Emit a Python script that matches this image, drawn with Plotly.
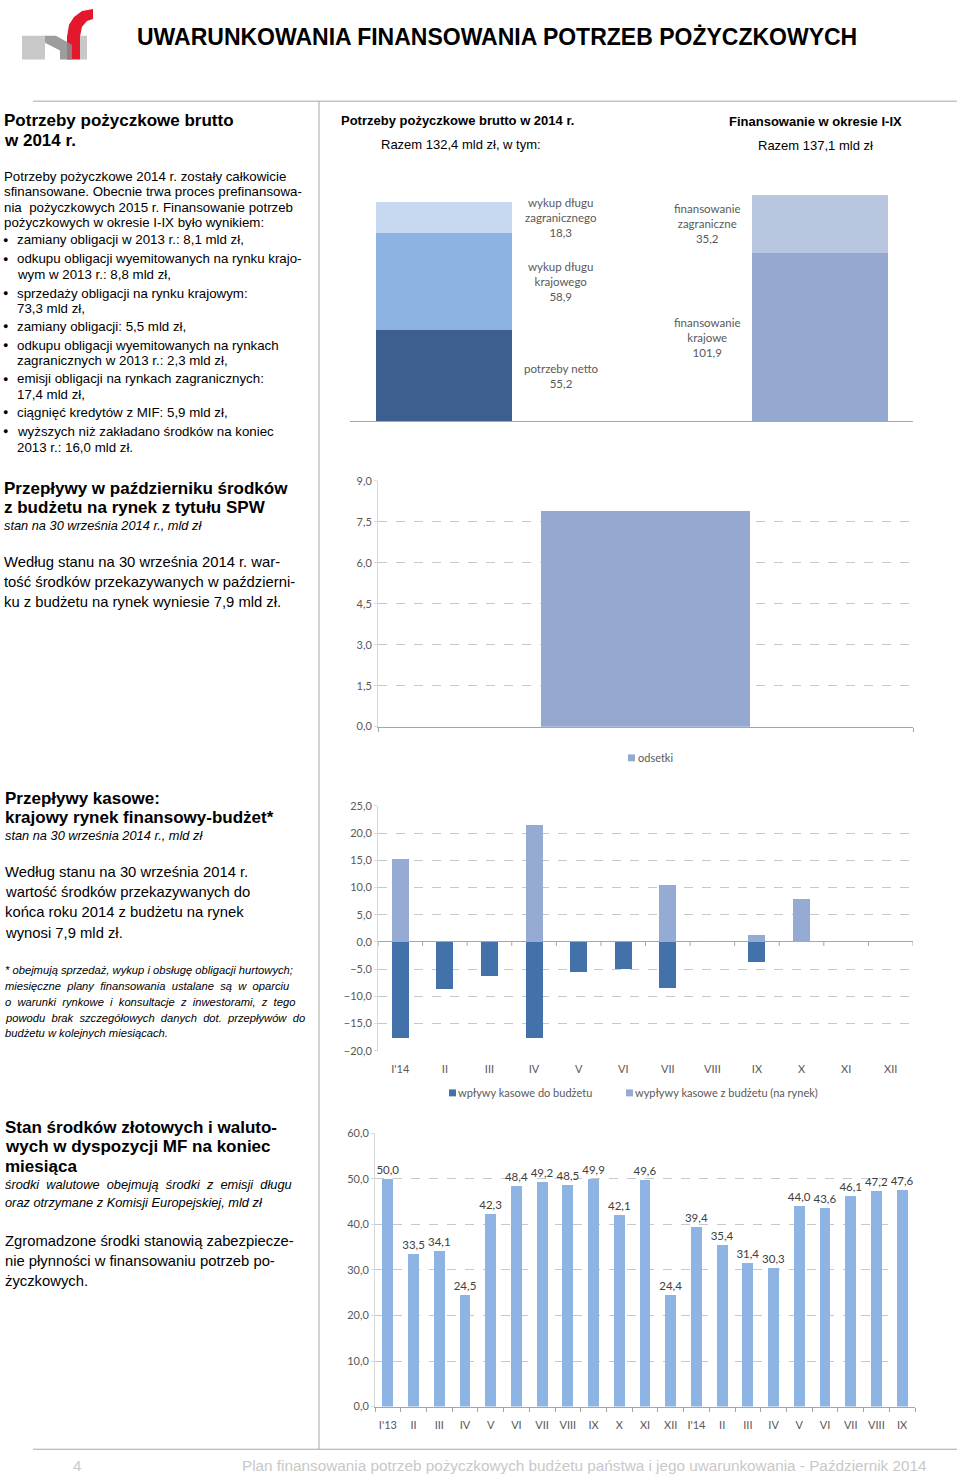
import plotly.graph_objects as go

W, H = 960, 1483

def px(x):
    return x / W

def py(y):
    return 1 - y / H

# ---------------- data ----------------
needs_labels = ["potrzeby netto", "wykup długu<br>krajowego", "wykup długu<br>zagranicznego"]
needs_values = [55.2, 58.9, 18.3]
funding_labels = ["finansowanie<br>krajowe", "finansowanie<br>zagraniczne"]
funding_values = [101.9, 35.2]

interest_label = "odsetki"
interest_values = [7.9]

cash_months = ["I'14", "II", "III", "IV", "V", "VI", "VII", "VIII", "IX", "X", "XI", "XII"]
cash_inflows = [-17.6, -8.6, -6.3, -17.6, -5.6, -5.0, -8.4, None, -3.6, None, None, None]
cash_outflows = [15.2, None, None, 21.5, None, None, 10.4, 0.1, 1.3, 7.9, None, None]
cash_names = ["wpływy kasowe do budżetu", "wypływy kasowe z budżetu (na rynek)"]

funds_months = ["I'13", "II", "III", "IV", "V", "VI", "VII", "VIII", "IX", "X", "XI", "XII",
                "I'14", "II", "III", "IV", "V", "VI", "VII", "VIII", "IX"]
funds_values = [50.0, 33.5, 34.1, 24.5, 42.3, 48.4, 49.2, 48.5, 49.9, 42.1, 49.6, 24.4,
                39.4, 35.4, 31.4, 30.3, 44.0, 43.6, 46.1, 47.2, 47.6]

# ---------------- styles ----------------
BODY = "Liberation Sans, Arial, sans-serif"
CHART = "Lato, Open Sans, sans-serif"
GRAY_TXT = "#595959"
AXIS = "#A6A6A6"
GRID = "#C8C8C8"
CLEAR = "rgba(0,0,0,0)"

needs_colors = ["#3C5F8F", "#8DB3E2", "#C6D9F1"]
funding_colors = ["#95A8D0", "#B9C6E0"]
inflow_color = "#4372AA"
outflow_color = "#95ABD3"
funds_color = "#8DB4E2"
interest_color = "#95A9D0"

def fmt(v):
    return f"{v:.1f}".replace(".", ",")

fig = go.Figure()

# ---- chart 1: stacked needs / funding ----
base = 0
for lab, val, col in zip(needs_labels, needs_values, needs_colors):
    fig.add_trace(go.Bar(x=[0], y=[val], base=[base], width=0.362, marker_color=col,
                         marker_line_width=0, xaxis="x", yaxis="y", showlegend=False,
                         hoverinfo="skip"))
    base += val
base = 0
for lab, val, col in zip(funding_labels, funding_values, funding_colors):
    fig.add_trace(go.Bar(x=[1], y=[val], base=[base], width=0.362, marker_color=col,
                         marker_line_width=0, xaxis="x", yaxis="y", showlegend=False,
                         hoverinfo="skip"))
    base += val

annotations = []

def add_chart1_labels(labels, values, xpos):
    b = 0
    for lab, val in zip(labels, values):
        annotations.append(dict(x=xpos, y=b + val / 2, xref="x", yref="y",
                                text=f"{lab}<br>{fmt(val)}", showarrow=False,
                                font=dict(family=CHART, size=11.5, color=GRAY_TXT),
                                align="center", xanchor="center", yanchor="middle"))
        b += val

add_chart1_labels(needs_labels, needs_values, 0.31)
add_chart1_labels(funding_labels, funding_values, 0.70)

# ---- chart 2: interest ----
fig.add_trace(go.Bar(x=[0], y=interest_values, width=0.39, marker_color=interest_color,
                     marker_line_width=0, xaxis="x2", yaxis="y2", showlegend=False,
                     hoverinfo="skip"))

# ---- chart 3: cash flows ----
fig.add_trace(go.Bar(x=list(range(len(cash_months))), y=cash_inflows, width=0.38,
                     marker_color=inflow_color, marker_line_width=0, name=cash_names[0],
                     xaxis="x3", yaxis="y3", showlegend=False, hoverinfo="skip"))
fig.add_trace(go.Bar(x=list(range(len(cash_months))), y=cash_outflows, width=0.38,
                     marker_color=outflow_color, marker_line_width=0, name=cash_names[1],
                     xaxis="x3", yaxis="y3", showlegend=False, hoverinfo="skip"))

# ---- chart 4: funds ----
fig.add_trace(go.Bar(x=list(range(len(funds_months))), y=funds_values, width=0.42,
                     marker_color=funds_color, marker_line_width=0,
                     text=[fmt(v) for v in funds_values], textposition="outside",
                     constraintext="none",
                     textfont=dict(family=CHART, size=11.5, color="#404040"),
                     cliponaxis=False, xaxis="x4", yaxis="y4", showlegend=False,
                     hoverinfo="skip"))

tickfont = dict(family=CHART, size=11, color=GRAY_TXT)

layout = dict(
    width=W, height=H, margin=dict(l=0, r=0, t=0, b=0),
    paper_bgcolor="white", plot_bgcolor="white",
    separators=", ", barmode="relative", bargap=0,
    xaxis=dict(domain=[px(350), px(913)], range=[-0.25, 1.247], showgrid=False,
               showticklabels=False, ticks="", showline=True, linecolor=AXIS,
               zeroline=False, fixedrange=True),
    yaxis=dict(domain=[py(418), py(151)], range=[0, 160], showgrid=False,
               showticklabels=False, ticks="", showline=False, zeroline=False),
    xaxis2=dict(domain=[px(378), px(913)], range=[-0.5, 0.5], showgrid=False,
                showticklabels=False, showline=True, linecolor=AXIS, zeroline=False,
                ticks="", minor=dict(tickvals=[-0.5, 0.5], ticks="outside", ticklen=4,
                                     tickcolor=AXIS), anchor="y2"),
    yaxis2=dict(domain=[py(726), py(478)], range=[0, 9], tickvals=[0, 1.5, 3, 4.5, 6, 7.5, 9],
                tickformat=".1f", showgrid=True, gridcolor=GRID, griddash="dash",
                showline=True, linecolor="#D9D9D9", ticks="outside", ticklen=3,
                tickcolor="#D9D9D9", tickfont=tickfont, zeroline=False, anchor="x2"),
    xaxis3=dict(domain=[px(378), px(913)], range=[-0.5, 11.5],
                tickvals=list(range(len(cash_months))), ticktext=cash_months,
                tickfont=tickfont, showgrid=False, showline=False, ticks="outside",
                ticklen=8, tickcolor=CLEAR, zeroline=False, anchor="y3"),
    yaxis3=dict(domain=[py(1053), py(806)], range=[-20, 25], dtick=5, tickformat=".1f",
                showgrid=True, gridcolor=GRID, griddash="dash", showline=True,
                linecolor="#D9D9D9", ticks="outside", ticklen=3, tickcolor="#D9D9D9",
                tickfont=tickfont, zeroline=True, zerolinecolor=AXIS, zerolinewidth=1,
                anchor="x3"),
    xaxis4=dict(domain=[px(375), px(915)], range=[-0.5, 20.5],
                tickvals=list(range(len(funds_months))), ticktext=funds_months,
                tickfont=tickfont, showgrid=False, showline=True, linecolor=AXIS,
                ticks="outside", ticklen=8, tickcolor=CLEAR,
                minor=dict(tickvals=[i - 0.5 for i in range(len(funds_months) + 1)],
                           ticks="outside", ticklen=4, tickcolor=AXIS),
                zeroline=False, anchor="y4"),
    yaxis4=dict(domain=[py(1412), py(1136)], range=[0, 60], dtick=10, tickformat=".1f",
                showgrid=True, gridcolor=GRID, griddash="dash", showline=True,
                linecolor="#D9D9D9", ticks="outside", ticklen=3, tickcolor="#D9D9D9",
                tickfont=tickfont, zeroline=False, anchor="x4"),
)

# ---------------- text helpers ----------------
def txt(x, y, text, size=13, bold=False, italic=False, color="black", anchor="left",
        family=BODY):
    if bold:
        text = f"<b>{text}</b>"
    if italic:
        text = f"<i>{text}</i>"
    annotations.append(dict(x=px(x), y=py(y), xref="paper", yref="paper", text=text,
                            showarrow=False, xanchor=anchor, yanchor="middle",
                            borderpad=0, borderwidth=0,
                            font=dict(family=family, size=size, color=color)))

# header
txt(137, 30, "UWARUNKOWANIA FINANSOWANIA POTRZEB POŻYCZKOWYCH", size=23, bold=True)

# chart titles
txt(341, 115, "Potrzeby pożyczkowe brutto w 2014 r.", size=13, bold=True)
txt(461, 139, "Razem 132,4 mld zł, w tym:", size=13, anchor="center")
txt(815, 116, "Finansowanie w okresie I-IX", size=13, bold=True, anchor="center")
txt(815, 140, "Razem 137,1 mld zł", size=13, anchor="center")

HEAD = 17
BODY1 = 13.3
BODY2 = 14.8

# section 1
txt(4, 115, "Potrzeby pożyczkowe brutto", size=HEAD, bold=True)
txt(4, 135, "w 2014 r.", size=HEAD, bold=True)
for y, line in [(171, "Potrzeby pożyczkowe 2014 r. zostały całkowicie"),
                (186, "sfinansowane. Obecnie trwa proces prefinansowa-"),
                (202, "nia  pożyczkowych 2015 r. Finansowanie potrzeb"),
                (217, "pożyczkowych w okresie I-IX było wynikiem:")]:
    txt(4, y, line, size=BODY1)
bullets = [
    [(235, "zamiany obligacji w 2013 r.: 8,1 mld zł,")],
    [(254, "odkupu obligacji wyemitowanych na rynku krajo-"), (270, "wym w 2013 r.: 8,8 mld zł,")],
    [(289, "sprzedaży obligacji na rynku krajowym:"), (304, "73,3 mld zł,")],
    [(322, "zamiany obligacji: 5,5 mld zł,")],
    [(341, "odkupu obligacji wyemitowanych na rynkach"), (357, "zagranicznych w 2013 r.: 2,3 mld zł,")],
    [(375, "emisji obligacji na rynkach zagranicznych:"), (391, "17,4 mld zł,")],
    [(409, "ciągnięć kredytów z MIF: 5,9 mld zł,")],
    [(428, "wyższych niż zakładano środków na koniec"), (444, "2013 r.: 16,0 mld zł.")],
]
for group in bullets:
    txt(3, group[0][0], "●", size=9)
    for y, line in group:
        txt(17, y, line, size=BODY1)

# section 2
txt(4, 486, "Przepływy w październiku środków", size=HEAD, bold=True)
txt(4, 505, "z budżetu na rynek z tytułu SPW", size=HEAD, bold=True)
txt(4, 523, "stan na 30 września 2014 r., mld zł", size=12.8, italic=True)
txt(4, 560, "Według stanu na 30 września 2014 r. war-", size=BODY2)
txt(4, 580, "tość środków przekazywanych w październi-", size=BODY2)
txt(4, 600, "ku z budżetu na rynek wyniesie 7,9 mld zł.", size=BODY2)

# section 3
txt(5, 798, "Przepływy kasowe:", size=HEAD, bold=True)
txt(5, 818, "krajowy rynek finansowy-budżet*", size=HEAD, bold=True)
txt(5, 836, "stan na 30 września 2014 r., mld zł", size=12.8, italic=True)
for y, line in [(873, "Według stanu na 30 września 2014 r."),
                (893, "wartość środków przekazywanych do"),
                (913, "końca roku 2014 z budżetu na rynek"),
                (934, "wynosi 7,9 mld zł.")]:
    txt(5, y, line, size=BODY2)
for y, line in [(972, "* obejmują sprzedaż, wykup i obsługę obligacji hurtowych;"),
                (988, "miesięczne  plany  finansowania  ustalane  są  w  oparciu"),
                (1004, "o  warunki  rynkowe  i  konsultacje  z  inwestorami,  z  tego"),
                (1020, "powodu  brak  szczegółowych  danych  dot.  przepływów  do"),
                (1035, "budżetu w kolejnych miesiącach.")]:
    txt(5, y, line, size=11.2, italic=True)

# section 4
txt(5, 1130, "Stan środków złotowych i waluto-", size=HEAD, bold=True)
txt(5, 1150, "wych w dyspozycji MF na koniec", size=HEAD, bold=True)
txt(5, 1170, "miesiąca", size=HEAD, bold=True)
txt(5, 1188, "środki  walutowe  obejmują  środki  z  emisji  długu", size=12.8, italic=True)
txt(5, 1206, "oraz otrzymane z Komisji Europejskiej, mld zł", size=12.8, italic=True)
txt(5, 1245, "Zgromadzone środki stanowią zabezpiecze-", size=BODY2)
txt(5, 1265, "nie płynności w finansowaniu potrzeb po-", size=BODY2)
txt(5, 1285, "życzkowych.", size=BODY2)

# legends (chart 2 & 3)
txt(638, 757, interest_label, size=11, color=GRAY_TXT, family=CHART)
txt(458, 1095, cash_names[0], size=11, color=GRAY_TXT, family=CHART)
txt(635, 1095, cash_names[1], size=11, color=GRAY_TXT, family=CHART)

# footer
txt(77, 1471, "4", size=15, color="#C8C8C8", anchor="center")
txt(927, 1471, "Plan finansowania potrzeb pożyczkowych budżetu państwa i jego uwarunkowania - Październik 2014",
    size=15.3, color="#C8C8C8", anchor="right",
    family="Liberation Sans Narrow, Liberation Sans, Arial")

layout["annotations"] = annotations

# ---------------- shapes ----------------
def rect(x0, y0, x1, y1, color):
    return dict(type="rect", xref="paper", yref="paper", x0=px(x0), x1=px(x1),
                y0=py(y1), y1=py(y0), fillcolor=color, line_width=0)

def line(x0, y0, x1, y1, color="#A6A6A6", width=1):
    return dict(type="line", xref="paper", yref="paper", x0=px(x0), x1=px(x1),
                y0=py(y0), y1=py(y1), line=dict(color=color, width=width))

def path(points, color, opacity=1):
    d = "M " + " L ".join(f"{px(x)},{py(y)}" for x, y in points) + " Z"
    return dict(type="path", xref="paper", yref="paper", path=d, fillcolor=color,
                line_width=0, opacity=opacity)

shapes = [
    line(33, 95, 957, 95),
    line(319, 95, 319, 1455),
    line(33, 1455, 957, 1455),
    rect(628, 754, 635, 761, interest_color),
    rect(449, 1092, 456, 1099, inflow_color),
    rect(626, 1092, 633, 1099, outflow_color),
    # logo
    rect(22, 29, 45, 53, "#C8C8C8"),
    rect(79, 29, 87, 53, "#C8C8C8"),
    path([(67, 53), (67, 30), (69, 18), (74, 10), (82, 4), (93, 2), (93, 12), (87, 14),
          (82, 20), (80, 30), (80, 53)], "#E3182D"),
    path([(45, 29), (56, 29), (72, 38), (72, 53), (60, 53), (60, 44), (45, 36)], "#8C8C8C", 0.85),
]
# category-boundary tick marks hanging from the zero line of the cash-flow chart
for i in range(len(cash_months) + 1):
    shapes.append(dict(type="line", xref="x3", yref="y3", x0=i - 0.5, x1=i - 0.5,
                       y0=0, y1=-0.75, line=dict(color=AXIS, width=1)))
layout["shapes"] = shapes

fig.update_layout(**layout)
fig.write_html(
    "out.html",
    config={"staticPlot": True, "displayModeBar": False},
    post_script=("document.documentElement.style.margin='0';"
                 "document.documentElement.style.overflow='hidden';"
                 "document.body.style.margin='0';document.body.style.padding='0';"
                 "document.body.style.overflow='hidden';"
                 "var gd=document.querySelector('.plotly-graph-div');"
                 "gd.style.position='fixed';gd.style.top='0px';gd.style.left='0px';"
                 "gd.style.margin='0';"),
)
